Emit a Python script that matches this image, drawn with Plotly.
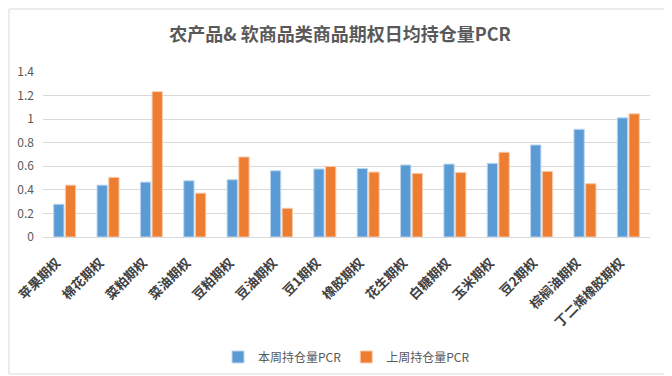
import plotly.graph_objects as go

categories = ["苹果期权", "棉花期权", "菜粕期权", "菜油期权", "豆粕期权", "豆油期权", "豆1期权",
              "橡胶期权", "花生期权", "白糖期权", "玉米期权", "豆2期权", "棕榈油期权", "丁二烯橡胶期权"]
this_week = [0.278, 0.44, 0.466, 0.477, 0.486, 0.562, 0.577, 0.582, 0.611, 0.619, 0.625, 0.781, 0.914, 1.011]
last_week = [0.44, 0.506, 1.233, 0.372, 0.679, 0.244, 0.599, 0.551, 0.54, 0.548, 0.719, 0.557, 0.452, 1.045]
y_ticks = [0, 0.2, 0.4, 0.6, 0.8, 1.0, 1.2, 1.4]
y_tick_labels = ["0", "0.2", "0.4", "0.6", "0.8", "1", "1.2", "1.4"]

fig = go.Figure()
fig.add_trace(go.Bar(x=categories, y=this_week, name="本周持仓量PCR",
                     marker=dict(color="#5B9BD5", line=dict(color="#BDD7EE", width=1))))
fig.add_trace(go.Bar(x=categories, y=last_week, name="上周持仓量PCR",
                     marker=dict(color="#ED7D31", line=dict(color="#F8CBAD", width=1))))

fig.update_layout(
    width=664, height=368,
    margin=dict(l=35, r=22, t=64, b=139, autoexpand=False),
    paper_bgcolor="white", plot_bgcolor="white",
    font=dict(family="Noto Sans CJK SC", color="#595959"),
    title=dict(text="<b>农产品& 软商品类商品期权日均持仓量PCR</b>", x=0.5, xanchor="center",
               y=0.927, yanchor="middle", font=dict(size=18, color="#595959")),
    barmode="group", bargap=0.46, bargroupgap=0.12,
    showlegend=True,
    legend=dict(orientation="h", x=0.5, xanchor="center", y=-0.727, yanchor="middle",
                font=dict(size=12, color="#595959"), itemwidth=30, traceorder="normal"),
    xaxis=dict(tickangle=-45, tickfont=dict(size=13, color="#404040", family="Noto Sans CJK SC"),
               showline=True, linecolor="#d9d9d9", linewidth=1, ticks="", automargin=False,
               ticklabelstandoff=12, ticklabelshift=-8),
    yaxis=dict(range=[0, 1.4], tickvals=y_ticks, ticktext=y_tick_labels,
               gridcolor="#d9d9d9", gridwidth=1, zeroline=False, showline=False, automargin=False,
               tickfont=dict(size=12, color="#595959"), ticklabelstandoff=8),
    shapes=[dict(type="rect", xref="paper", yref="paper", x0=-34/607, x1=1+16/607,
                 y0=-137/165, y1=1+63/165, line=dict(color="#d9d9d9", width=1))],
)
fig.update_xaxes(tickprefix="<b>", ticksuffix="</b>")

fig.write_html("out.html")
